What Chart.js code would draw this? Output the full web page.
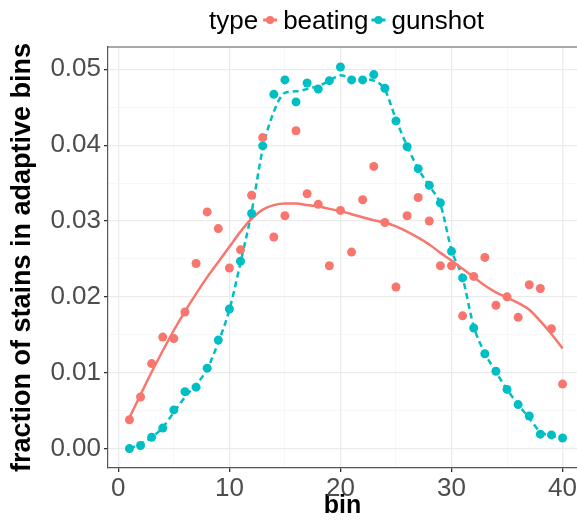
<!DOCTYPE html>
<html>
<head>
<meta charset="utf-8">
<script src="https://cdn.jsdelivr.net/npm/chart.js@4.4.1/dist/chart.umd.min.js"></script>
<style>
  body { margin: 0; background: #ffffff; }
  canvas { display: block; }
</style>
</head>
<body>
<canvas id="chart" width="577" height="521"></canvas>
<script>
// bin number on the x axis
const bins = [1, 2, 3, 4, 5, 6, 7, 8, 9, 10, 11, 12, 13, 14, 15, 16, 17, 18, 19, 20,
              21, 22, 23, 24, 25, 26, 27, 28, 29, 30, 31, 32, 33, 34, 35, 36, 37, 38, 39, 40];

// observed fractions (points)
const beating = [0.0038, 0.0068, 0.0112, 0.0147, 0.0145, 0.0180, 0.0244, 0.0312, 0.0290, 0.0238,
                 0.0262, 0.0334, 0.0410, 0.0279, 0.0307, 0.0419, 0.0336, 0.0322, 0.0241, 0.0314,
                 0.0259, 0.0328, 0.0372, 0.0298, 0.0213, 0.0307, 0.0331, 0.0300, 0.0241, 0.0241,
                 0.0175, 0.0227, 0.0252, 0.0189, 0.0200, 0.0173, 0.0216, 0.0211, 0.0158, 0.0085];
const gunshot = [0.0000, 0.0004, 0.0015, 0.0027, 0.0051, 0.0075, 0.0081, 0.0106, 0.0143, 0.0184,
                 0.0247, 0.0310, 0.0399, 0.0467, 0.0486, 0.0457, 0.0482, 0.0474, 0.0485, 0.0503,
                 0.0486, 0.0486, 0.0493, 0.0475, 0.0432, 0.0398, 0.0369, 0.0347, 0.0324, 0.0260,
                 0.0225, 0.0159, 0.0125, 0.0102, 0.0078, 0.0058, 0.0043, 0.0019, 0.0018, 0.0014];

// smoothed curves
const beatingFit = [0.0041, 0.0071, 0.0101, 0.0129, 0.0156, 0.0181, 0.0204, 0.0226, 0.0246, 0.0266,
                    0.0286, 0.0303, 0.0315, 0.0321, 0.0323, 0.0323, 0.0321, 0.0319, 0.0316, 0.0313,
                    0.0309, 0.0305, 0.0301, 0.0298, 0.0293, 0.0286, 0.0278, 0.0269, 0.0258, 0.0248,
                    0.0237, 0.0226, 0.0215, 0.0206, 0.0199, 0.0192, 0.0183, 0.0168, 0.0151, 0.0132];
const gunshotFit = [0.0000, 0.0006, 0.0015, 0.0028, 0.0048, 0.0068, 0.0084, 0.0105, 0.0140, 0.0183,
                    0.0245, 0.0312, 0.0395, 0.0444, 0.0469, 0.0471, 0.0474, 0.0478, 0.0485, 0.0492,
                    0.0489, 0.0487, 0.0485, 0.0473, 0.0434, 0.0399, 0.0369, 0.0346, 0.0322, 0.0262,
                    0.0225, 0.0161, 0.0126, 0.0101, 0.0078, 0.0058, 0.0040, 0.0022, 0.0017, 0.0014];

const xTicks = [0, 10, 20, 30, 40];
const yTicks = [0.00, 0.01, 0.02, 0.03, 0.04, 0.05];

const RED = '#F8766D';
const TEAL = '#00BFC4';
const FONT = "'Liberation Sans', Arial, sans-serif";

// major ticks plus the minor ones halfway between
function withMinor(major) {
    const out = [];
    major.forEach((v, i) => {
        out.push({ value: v, major: true });
        if (i < major.length - 1) out.push({ value: (v + major[i + 1]) / 2, major: false });
    });
    return out;
}

const pts = (ys) => bins.map((b, i) => ({ x: b, y: ys[i] }));

const gridColor = (c) => (c.tick && c.tick.major) ? '#EBEBEB' : '#F3F3F3';
const gridWidth = (c) => (c.tick && c.tick.major) ? 1.3 : 0.7;
const tickColor = (c) => (c.tick && c.tick.major) ? '#333333' : 'rgba(0,0,0,0)';

// legend row and the top edge of the panel
const extras = {
    id: 'extras',
    afterDraw(chart) {
        const ctx = chart.ctx;
        const area = chart.chartArea;
        ctx.save();
        ctx.strokeStyle = '#555555';
        ctx.lineWidth = 1.2;
        ctx.beginPath();
        ctx.moveTo(area.left, area.top);
        ctx.lineTo(area.right, area.top);
        ctx.stroke();

        ctx.font = '26px ' + FONT;
        ctx.fillStyle = '#000000';
        ctx.textBaseline = 'alphabetic';
        const base = 29;
        let x = 209;
        ctx.fillText('type', x, base);
        x += ctx.measureText('type').width + 5;
        const items = [['beating', RED], ['gunshot', TEAL]];
        items.forEach(([label, color]) => {
            const cx = x + 7;
            const cy = base - 9;
            ctx.strokeStyle = color;
            ctx.lineWidth = 3;
            ctx.beginPath();
            ctx.moveTo(cx - 7, cy);
            ctx.lineTo(cx + 7, cy);
            ctx.stroke();
            ctx.fillStyle = color;
            ctx.beginPath();
            ctx.arc(cx, cy, 4, 0, Math.PI * 2);
            ctx.fill();
            x += 20;
            ctx.fillStyle = '#000000';
            ctx.fillText(label, x, base);
            x += ctx.measureText(label).width + 3;
        });
        ctx.restore();
    }
};

const ctx = document.getElementById('chart').getContext('2d');
new Chart(ctx, {
    type: 'scatter',
    data: {
        datasets: [
            {
                label: 'beating',
                data: pts(beating),
                backgroundColor: RED,
                borderWidth: 0,
                pointRadius: 4.5,
                showLine: false
            },
            {
                label: 'gunshot',
                data: pts(gunshot),
                backgroundColor: TEAL,
                borderWidth: 0,
                pointRadius: 4.5,
                showLine: false
            },
            {
                label: 'beating fit',
                data: pts(beatingFit),
                showLine: true,
                borderColor: RED,
                borderWidth: 2.5,
                pointRadius: 0,
                cubicInterpolationMode: 'monotone'
            },
            {
                label: 'gunshot fit',
                data: pts(gunshotFit),
                showLine: true,
                borderColor: TEAL,
                borderWidth: 2.5,
                borderDash: [6, 4],
                pointRadius: 0,
                cubicInterpolationMode: 'monotone'
            }
        ]
    },
    options: {
        responsive: false,
        animation: false,
        devicePixelRatio: 1,
        layout: { autoPadding: false, padding: { top: 47, left: 0, right: 0, bottom: 0 } },
        plugins: {
            legend: { display: false },
            tooltip: { enabled: false }
        },
        scales: {
            x: {
                type: 'linear',
                min: -0.93,
                max: 41.3,
                afterBuildTicks: (scale) => { scale.ticks = withMinor(xTicks); },
                afterFit: (scale) => {
                    scale.height = 53;
                    scale.paddingLeft = 0;
                    scale.paddingRight = 0;
                },
                ticks: {
                    autoSkip: false,
                    maxRotation: 0,
                    padding: 1,
                    color: '#4D4D4D',
                    font: { family: FONT, size: 26 },
                    callback: (v) => xTicks.includes(v) ? String(v) : ''
                },
                grid: { color: gridColor, lineWidth: gridWidth, tickColor: tickColor, tickLength: 4 },
                border: { display: true, color: '#555555', width: 1.2 },
                title: {
                    display: true,
                    text: 'bin',
                    color: '#000000',
                    font: { family: FONT, size: 25, weight: 'bold' },
                    padding: { top: -6, bottom: 0 }
                }
            },
            y: {
                type: 'linear',
                min: -0.00256,
                max: 0.05294,
                afterBuildTicks: (scale) => { scale.ticks = withMinor(yTicks); },
                afterFit: (scale) => { scale.width = 108; },
                ticks: {
                    autoSkip: false,
                    padding: 3,
                    color: '#4D4D4D',
                    font: { family: FONT, size: 26 },
                    callback: (v) => {
                        const m = yTicks.find(t => Math.abs(t - v) < 1e-9);
                        return m === undefined ? '' : m.toFixed(2);
                    }
                },
                grid: { color: gridColor, lineWidth: gridWidth, tickColor: tickColor, tickLength: 4 },
                border: { display: true, color: '#555555', width: 1.2 },
                title: {
                    display: true,
                    text: 'fraction of stains in adaptive bins',
                    color: '#000000',
                    font: { family: FONT, size: 27, weight: 'bold' },
                    padding: { top: 6, bottom: 0 }
                }
            }
        }
    },
    plugins: [extras]
});
</script>
</body>
</html>
